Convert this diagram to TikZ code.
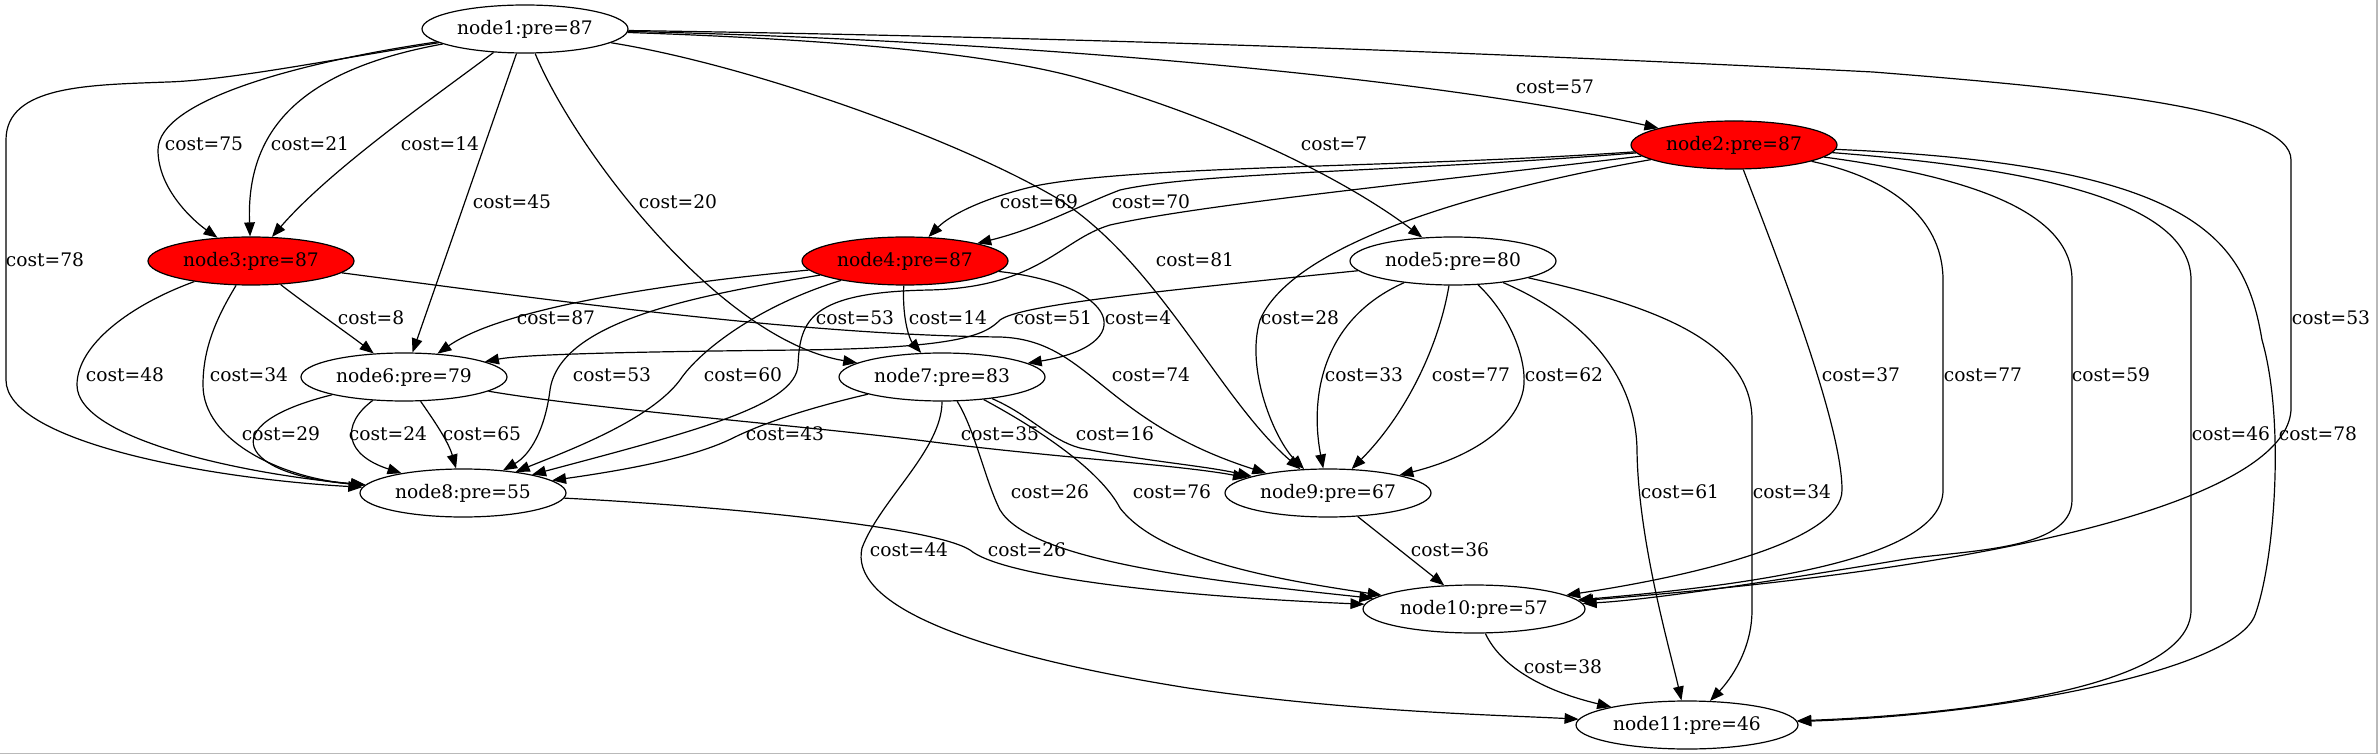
\documentclass[tikz,border=0pt]{standalone}
\usepackage{fontspec}
\setmainfont{DejaVu Serif}
\usetikzlibrary{shapes.geometric,arrows.meta}
\newcommand{\gvfont}{\fontsize{14pt}{16pt}\selectfont}
\tikzset{
  nd/.style={draw, ellipse, inner sep=0pt, minimum width=154.5pt, minimum height=36pt, line width=0.9pt, font=\gvfont},
  rednd/.style={nd, fill=red},
  widend/.style={minimum width=166.5pt},
  lbl/.style={inner sep=0pt, font=\gvfont},
  edge/.style={line width=0.9pt, -{Triangle[length=10.5pt,width=8pt]}},
}
\begin{document}
\begin{tikzpicture}[x=0.75pt, y=-0.75pt]
\useasboundingbox (0,0) rectangle (2379,755);
\draw[gray!55, line width=1.2pt] (0,753.5) -- (2377,753.5) -- (2377,0);

% nodes
\node[nd]    (n1)  at (525,29)   {node1:pre=87};
\node[rednd] (n2)  at (1734,145) {node2:pre=87};
\node[rednd] (n3)  at (251,261)  {node3:pre=87};
\node[rednd] (n4)  at (905,261)  {node4:pre=87};
\node[nd]    (n5)  at (1453,261) {node5:pre=80};
\node[nd]    (n6)  at (404,377)  {node6:pre=79};
\node[nd]    (n7)  at (942,377)  {node7:pre=83};
\node[nd]    (n8)  at (463,493)  {node8:pre=55};
\node[nd]    (n9)  at (1328,493) {node9:pre=67};
\node[nd,widend] (n10) at (1474,609) {node10:pre=57};
\node[nd,widend] (n11) at (1687,725) {node11:pre=46};

% edges from node1
\draw[edge] (n1) .. controls (300,62) and (158,100) .. (158,150) .. controls (158,190) and (195,222) .. (n3);
\draw[edge] (n1) .. controls (300,70) and (246,130) .. (n3);
\draw[edge] (n1) .. controls (430,100) and (330,170) .. (n3);
\draw[edge] (n1) -- (n6);
\draw[edge] (n1) .. controls (575,150) and (720,340) .. (n7);
\draw[edge] (n1) .. controls (330,60) and (230,80) .. (168,82) .. controls (90,85) and (6,85) .. (6,140) -- (6,380) .. controls (6,440) and (200,478) .. (n8);
\draw[edge] (n1) .. controls (750,65) and (960,140) .. (1060,200) .. controls (1160,265) and (1220,400) .. (n9);
\draw[edge] (n1) .. controls (850,40) and (1000,55) .. (1086,80) .. controls (1250,128) and (1360,190) .. (n5);
\draw[edge] (n1) .. controls (1000,40) and (1420,75) .. (n2);
\draw[edge] (n1) .. controls (1000,36) and (1400,48) .. (1873,72) .. controls (2100,90) and (2291,110) .. (2291,160) -- (2291,408) .. controls (2291,480) and (2100,560) .. (n10);

% edges from node2
\draw[edge] (n2) .. controls (1400,168) and (1150,165) .. (1040,185) .. controls (985,197) and (950,215) .. (n4);
\draw[edge] (n2) .. controls (1400,172) and (1200,172) .. (1120,190) .. controls (1080,205) and (1040,228) .. (n4);
\draw[edge] (n2) .. controls (1400,185) and (1200,205) .. (1110,225) .. controls (1060,240) and (1040,287) .. (930,290) .. controls (810,292) and (800,320) .. (798,365) .. controls (796,405) and (700,430) .. (n8);
\draw[edge] (n2) .. controls (1450,195) and (1290,250) .. (1260,320) .. controls (1245,370) and (1275,440) .. (n9);
\draw[edge] (n2) .. controls (1770,240) and (1842,420) .. (1842,490) .. controls (1842,540) and (1700,575) .. (n10);
\draw[edge] (n2) .. controls (1900,180) and (1943,225) .. (1943,280) -- (1943,490) .. controls (1943,560) and (1750,585) .. (n10);
\draw[edge] (n2) .. controls (1980,178) and (2072,215) .. (2072,280) -- (2072,500) .. controls (2072,552) and (1960,550) .. (1900,560) .. controls (1780,580) and (1650,600) .. (n10);
\draw[edge] (n2) .. controls (2030,168) and (2191,200) .. (2191,280) -- (2191,610) .. controls (2191,690) and (1950,715) .. (n11);
\draw[edge] (n2) .. controls (2200,165) and (2245,240) .. (2262,340) .. controls (2285,420) and (2275,560) .. (2255,615) .. controls (2235,670) and (2000,715) .. (n11);

% edges from node3
\draw[edge] (n3) .. controls (300,300) and (350,335) .. (n6);
\draw[edge] (n3) .. controls (130,305) and (77,345) .. (77,385) .. controls (77,440) and (250,475) .. (n8);
\draw[edge] (n3) .. controls (215,320) and (203,350) .. (203,385) .. controls (203,440) and (280,478) .. (n8);
\draw[edge] (n3) .. controls (550,300) and (800,335) .. (1000,337) .. controls (1090,340) and (1100,420) .. (n9);

% edges from node4
\draw[edge] (n4) .. controls (650,285) and (500,310) .. (n6);
\draw[edge] (n4) .. controls (700,295) and (560,320) .. (550,390) .. controls (545,430) and (530,455) .. (n8);
\draw[edge] (n4) .. controls (760,305) and (700,350) .. (680,380) .. controls (650,420) and (570,450) .. (n8);
\draw[edge] (n4) .. controls (902,320) and (910,340) .. (n7);
\draw[edge] (n4) .. controls (1120,285) and (1140,345) .. (n7);

% edges from node5
\draw[edge] (n5) .. controls (1150,292) and (1020,305) .. (1000,320) .. controls (985,335) and (960,348) .. (800,350) .. controls (600,352) and (520,355) .. (n6);
\draw[edge] (n5) .. controls (1320,320) and (1310,400) .. (n9);
\draw[edge] (n5) .. controls (1440,340) and (1410,410) .. (n9);
\draw[edge] (n5) .. controls (1515,320) and (1530,370) .. (1522,395) .. controls (1510,435) and (1460,460) .. (n9);
\draw[edge] (n5) .. controls (1590,320) and (1636,380) .. (1637,450) .. controls (1638,540) and (1670,650) .. (n11);
\draw[edge] (n5) .. controls (1650,305) and (1752,340) .. (1752,420) -- (1752,610) .. controls (1752,650) and (1730,680) .. (n11);

% edges from node6
\draw[edge] (n6) .. controls (210,425) and (240,475) .. (n8);
\draw[edge] (n6) .. controls (340,425) and (345,455) .. (n8);
\draw[edge] (n6) .. controls (430,415) and (448,440) .. (n8);
\draw[edge] (n6) .. controls (600,410) and (800,425) .. (933,442) .. controls (1050,457) and (1180,465) .. (n9);

% edges from node7
\draw[edge] (n7) .. controls (800,410) and (760,425) .. (735,437) .. controls (700,455) and (640,468) .. (n8);
\draw[edge] (n7) .. controls (1030,415) and (1050,440) .. (1080,448) .. controls (1150,462) and (1200,465) .. (n9);
\draw[edge] (n7) .. controls (975,430) and (985,480) .. (1000,510) .. controls (1030,560) and (1200,580) .. (n10);
\draw[edge] (n7) .. controls (1040,430) and (1100,470) .. (1120,508) .. controls (1160,560) and (1280,580) .. (n10);
\draw[edge] (n7) .. controls (942,450) and (880,500) .. (862,548) .. controls (850,600) and (950,650) .. (1188,688) .. controls (1350,712) and (1500,715) .. (n11);

% remaining edges
\draw[edge] (n8) .. controls (700,505) and (930,525) .. (970,550) .. controls (1000,575) and (1150,595) .. (n10);
\draw[edge] (n9) -- (n10);
\draw[edge] (n10) .. controls (1500,665) and (1540,690) .. (n11);

% labels
\node[lbl] (c1a) at (204,144)  {cost=75};
\node[lbl] (c1b) at (310,144)  {cost=21};
\node[lbl] (c1c) at (440,144)  {cost=14};
\node[lbl] (c1d) at (512,202)  {cost=45};
\node[lbl] (c1e) at (678,202)  {cost=20};
\node[lbl] (c1f) at (45,260)   {cost=78};
\node[lbl] (c1g) at (1195,260) {cost=81};
\node[lbl] (c1h) at (1334,144) {cost=7};
\node[lbl] (c1i) at (1555,87)  {cost=57};
\node[lbl] (c1j) at (2331,318) {cost=53};
\node[lbl] (c2a) at (1039,202) {cost=69};
\node[lbl] (c2b) at (1151,202) {cost=70};
\node[lbl] (c2c) at (855,318)  {cost=53};
\node[lbl] (c2d) at (1300,318) {cost=28};
\node[lbl] (c2e) at (1861,375) {cost=37};
\node[lbl] (c2f) at (1983,375) {cost=77};
\node[lbl] (c2g) at (2111,375) {cost=59};
\node[lbl] (c2h) at (2231,434) {cost=46};
\node[lbl] (c2i) at (2318,434) {cost=78};
\node[lbl] (c3a) at (371,318)  {cost=8};
\node[lbl] (c3b) at (125,375)  {cost=48};
\node[lbl] (c3c) at (249,375)  {cost=34};
\node[lbl] (c3d) at (1151,375) {cost=74};
\node[lbl] (c4a) at (556,318)  {cost=87};
\node[lbl] (c4b) at (612,375)  {cost=53};
\node[lbl] (c4c) at (743,375)  {cost=60};
\node[lbl] (c4d) at (948,318)  {cost=14};
\node[lbl] (c4e) at (1138,318) {cost=4};
\node[lbl] (c5a) at (1053,318) {cost=51};
\node[lbl] (c5b) at (1364,375) {cost=33};
\node[lbl] (c5c) at (1471,375) {cost=77};
\node[lbl] (c5d) at (1564,375) {cost=62};
\node[lbl] (c5e) at (1680,492) {cost=61};
\node[lbl] (c5f) at (1792,492) {cost=34};
\node[lbl] (c6a) at (281,434)  {cost=29};
\node[lbl] (c6b) at (388,434)  {cost=24};
\node[lbl] (c6c) at (482,434)  {cost=65};
\node[lbl] (c6d) at (1000,434) {cost=35};
\node[lbl] (c7a) at (785,434)  {cost=43};
\node[lbl] (c7b) at (1115,434) {cost=16};
\node[lbl] (c7c) at (1050,492) {cost=26};
\node[lbl] (c7d) at (1172,492) {cost=76};
\node[lbl] (c7e) at (909,550)  {cost=44};
\node[lbl] (c8a) at (1027,550) {cost=26};
\node[lbl] (c9a) at (1450,550) {cost=36};
\node[lbl] (c10a) at (1563,667) {cost=38};
\end{tikzpicture}
\end{document}
